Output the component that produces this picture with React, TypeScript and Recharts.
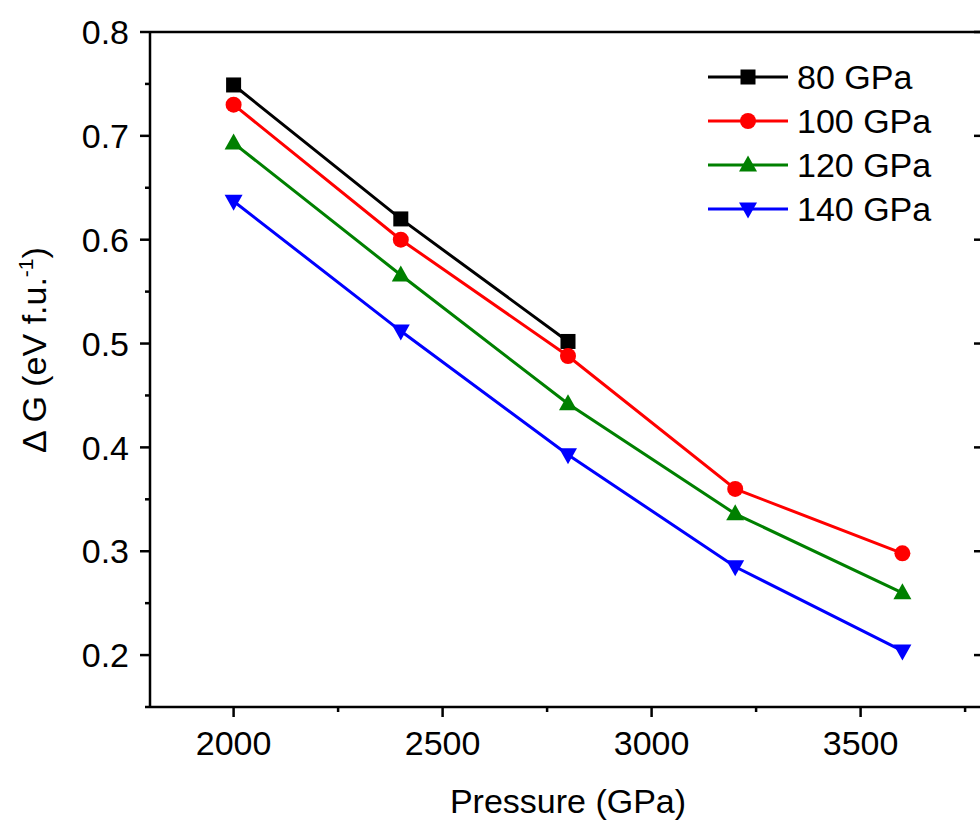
import { LineChart, Line, XAxis, YAxis, ReferenceLine } from 'recharts';

const pressure = [2000, 2400, 2800, 3200, 3600];
const gpa80 = [0.749, 0.62, 0.502, null, null];
const gpa100 = [0.73, 0.6, 0.488, 0.36, 0.298];
const gpa120 = [0.693, 0.566, 0.442, 0.336, 0.26];
const gpa140 = [0.637, 0.512, 0.393, 0.285, 0.204];

const xTicks = [2000, 2250, 2500, 2750, 3000, 3250, 3500, 3750];
const yTicks = [0.15, 0.2, 0.25, 0.3, 0.35, 0.4, 0.45, 0.5, 0.55, 0.6, 0.65, 0.7, 0.75, 0.8];
const yMajor = [0.2, 0.3, 0.4, 0.5, 0.6, 0.7, 0.8];

const series = [
  { key: 'g80', name: '80 GPa', color: '#000000', shape: 'square' },
  { key: 'g100', name: '100 GPa', color: '#ff0000', shape: 'circle' },
  { key: 'g120', name: '120 GPa', color: '#008000', shape: 'up' },
  { key: 'g140', name: '140 GPa', color: '#0000ff', shape: 'down' },
];

const data = pressure.map((p, i) => ({
  pressure: p,
  g80: gpa80[i],
  g100: gpa100[i],
  g120: gpa120[i],
  g140: gpa140[i],
}));

const FONT = '"Liberation Sans", Arial, sans-serif';
const FS = 34;

function Marker({ cx, cy, shape, color }: any) {
  if (shape === 'square') return <rect x={cx - 7.5} y={cy - 7.5} width={15} height={15} fill={color} />;
  if (shape === 'circle') return <circle cx={cx} cy={cy} r={8} fill={color} />;
  if (shape === 'up')
    return <polygon points={`${cx},${cy - 9.5} ${cx - 9},${cy + 6.5} ${cx + 9},${cy + 6.5}`} fill={color} />;
  return <polygon points={`${cx},${cy + 9.5} ${cx - 9},${cy - 6.5} ${cx + 9},${cy - 6.5}`} fill={color} />;
}

const makeDot = (shape: string, color: string) => (props: any) => {
  const { cx, cy, index, value } = props;
  if (value == null || cx == null || cy == null) return <g key={`e-${index}`} />;
  return (
    <g key={`d-${index}`}>
      <Marker cx={cx} cy={cy} shape={shape} color={color} />
    </g>
  );
};

const XTick = ({ x, y, payload }: any) => {
  const major = payload.value % 500 === 0;
  return (
    <g>
      <line x1={x} y1={y} x2={x} y2={y + (major ? 10 : 5)} stroke="#000" strokeWidth={2.5} />
      {major && (
        <text x={x} y={y + 48} textAnchor="middle" fontSize={FS} fontFamily={FONT} fill="#000">
          {payload.value}
        </text>
      )}
    </g>
  );
};

const YTick = ({ x, y, payload }: any) => {
  const v = payload.value;
  const major = Math.abs(v * 10 - Math.round(v * 10)) < 1e-6;
  return (
    <g>
      <line x1={x} y1={y} x2={x - (major ? 10 : 5)} y2={y} stroke="#000" strokeWidth={2.5} />
      {major && (
        <text x={x - 21} y={y} dy="0.36em" textAnchor="end" fontSize={FS} fontFamily={FONT} fill="#000">
          {v.toFixed(1)}
        </text>
      )}
    </g>
  );
};

const RightTick = ({ x, y }: any) => (
  <line x1={x - 12} y1={y} x2={x} y2={y} stroke="#000" strokeWidth={2.5} />
);

const LegendBox = () => (
  <div
    style={{
      position: 'absolute',
      left: 707,
      top: 55,
      fontFamily: FONT,
      fontSize: FS,
      color: '#000',
    }}
  >
    {series.map((s) => (
      <div key={s.key} style={{ display: 'flex', alignItems: 'center', height: 44 }}>
        <svg width={82} height={30} style={{ display: 'block' }}>
          <line x1={1} y1={15} x2={81} y2={15} stroke={s.color} strokeWidth={3} />
          <Marker cx={41} cy={15} shape={s.shape} color={s.color} />
        </svg>
        <span style={{ marginLeft: 8, lineHeight: '44px' }}>{s.name}</span>
      </div>
    ))}
  </div>
);

const YLabel = () => (
  <text
    transform="translate(46, 350) rotate(-90)"
    textAnchor="middle"
    fontSize={FS}
    fontFamily={FONT}
    fill="#000"
  >
    Δ G (eV f.u.
    <tspan dy={-13} fontSize={21}>-1</tspan>
    <tspan dy={13}>)</tspan>
  </text>
);

export default function App() {
  return (
    <div
      style={{
        position: 'absolute',
        left: 0,
        top: 0,
        width: 980,
        height: 825,
        overflow: 'hidden',
        background: '#fff',
        fontFamily: FONT,
      }}
    >
      <LineChart width={1000} height={825} data={data} margin={{ top: 32, right: 10, left: 0, bottom: 0 }}>
        <XAxis
          dataKey="pressure"
          type="number"
          domain={[1800, 3800]}
          ticks={xTicks}
          allowDataOverflow
          height={118}
          tickSize={0}
          tickMargin={0}
          tickLine={false}
          tick={<XTick />}
          axisLine={{ stroke: '#000', strokeWidth: 2.5 }}
          interval={0}
          label={{ value: 'Pressure (GPa)', position: 'insideBottom', offset: 12, fontSize: FS, fontFamily: FONT, fill: '#000' }}
        />
        <YAxis
          type="number"
          domain={[0.15, 0.8]}
          ticks={yTicks}
          allowDataOverflow
          width={150}
          tickSize={0}
          tickMargin={0}
          tickLine={false}
          tick={<YTick />}
          axisLine={{ stroke: '#000', strokeWidth: 2.5 }}
          interval={0}
          label={{ content: <YLabel /> }}
        />
        <YAxis
          yAxisId="right"
          orientation="right"
          type="number"
          domain={[0.15, 0.8]}
          ticks={yMajor}
          allowDataOverflow
          width={4}
          tickSize={0}
          tickMargin={0}
          tickLine={false}
          tick={<RightTick />}
          axisLine={{ stroke: '#000', strokeWidth: 2.5 }}
          interval={0}
        />
        <ReferenceLine y={0.8} stroke="#000" strokeWidth={2.5} />
        {series.map((s) => (
          <Line
            key={s.key}
            dataKey={s.key}
            name={s.name}
            stroke={s.color}
            strokeWidth={3}
            dot={makeDot(s.shape, s.color)}
            activeDot={false}
            isAnimationActive={false}
            connectNulls={false}
            type="linear"
          />
        ))}
      </LineChart>
      <LegendBox />
    </div>
  );
}
